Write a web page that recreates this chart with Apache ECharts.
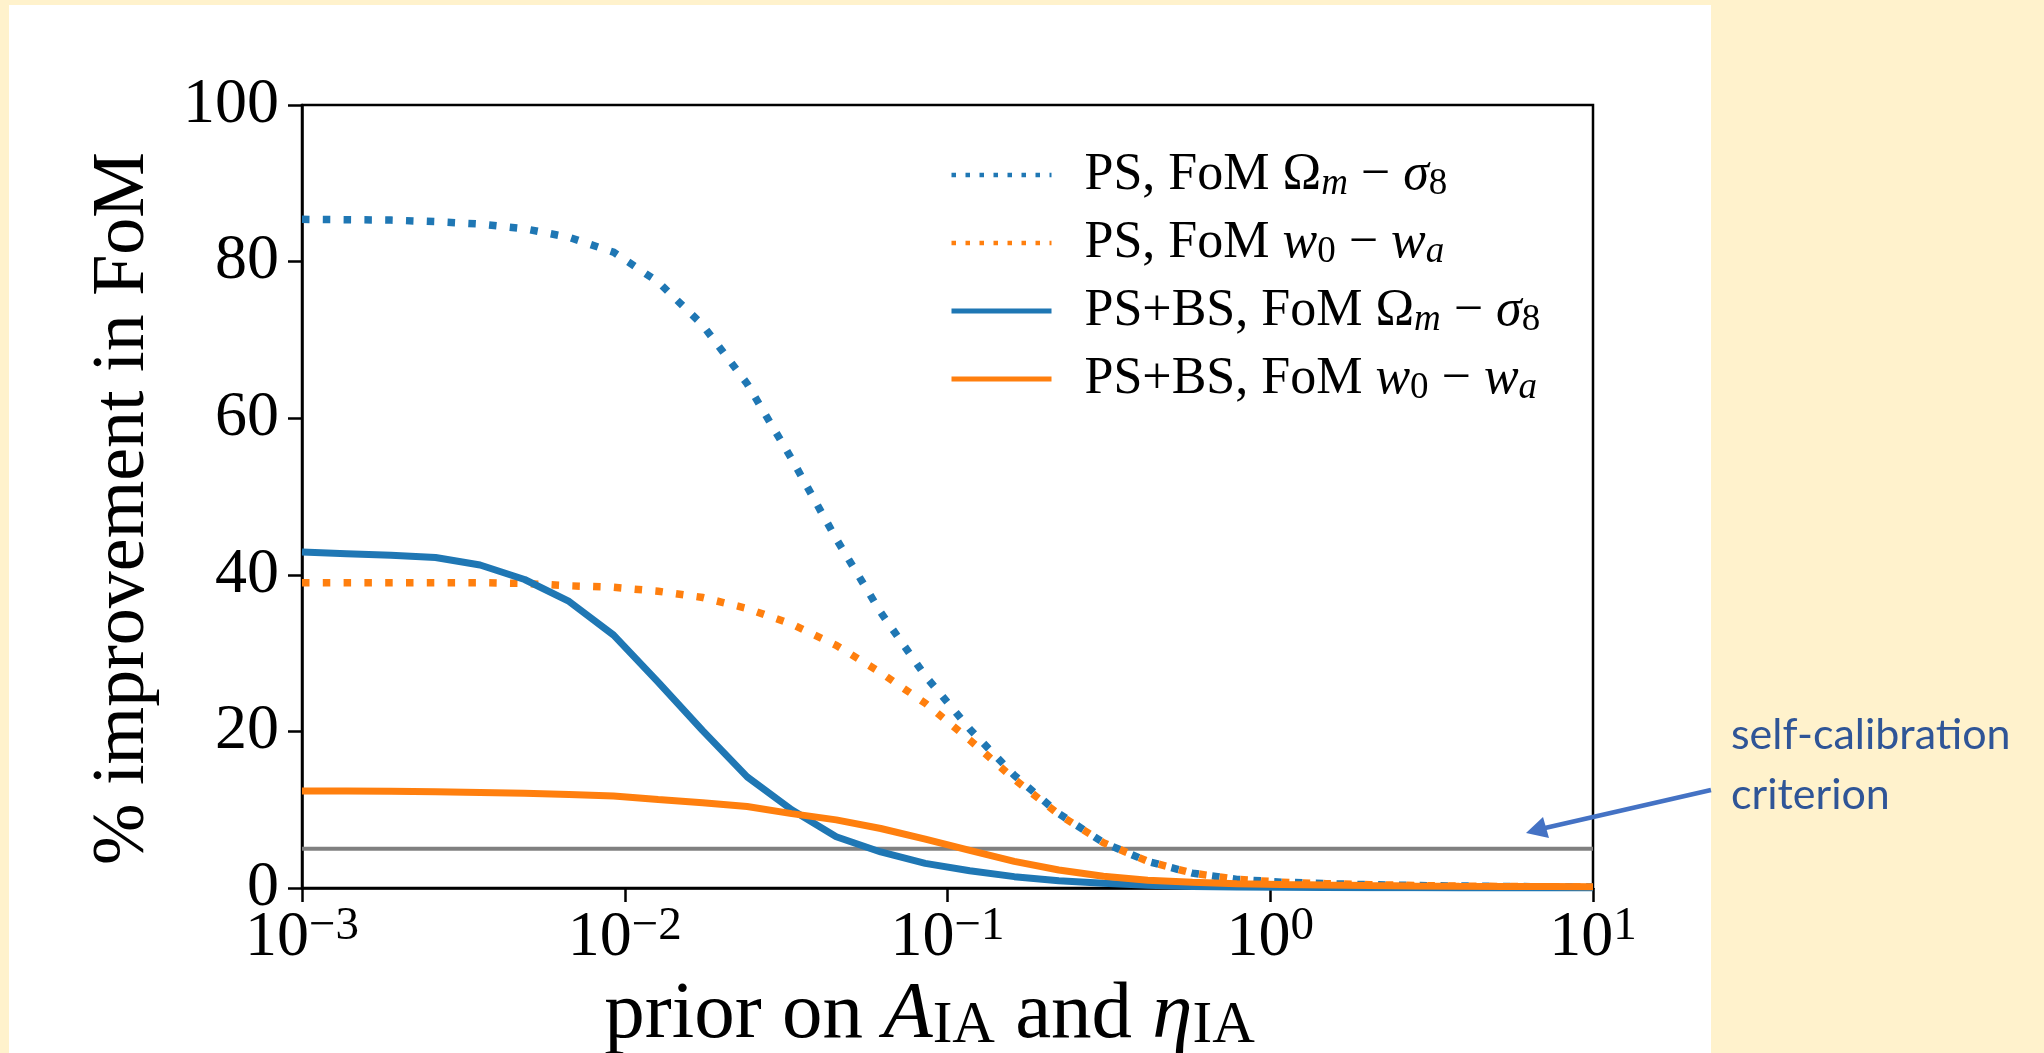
<!DOCTYPE html>
<html>
<head>
<meta charset="utf-8">
<script src="https://cdn.jsdelivr.net/npm/echarts@6/dist/echarts.min.js"></script>
<style>
  html, body { margin: 0; padding: 0; background: #FFF2CC; }
  #panel { position: absolute; left: 9px; top: 5px; width: 1702px; height: 1048px; background: #ffffff; }
  #chart { position: absolute; left: 0; top: 0; width: 2044px; height: 1053px; }
</style>
</head>
<body>
<div id="panel"></div>
<div id="chart"></div>
<script>
// prior on A_IA and eta_IA (30 log-spaced samples)
const priors = [0.001, 0.0013738, 0.0018874, 0.0025929, 0.0035622, 0.0048939, 0.0067234, 0.0092367,
  0.012690, 0.017433, 0.023950, 0.032903, 0.045204, 0.062102, 0.085317, 0.11721, 0.16103, 0.22122,
  0.30392, 0.41753, 0.57362, 0.78805, 1.0826, 1.4874, 2.0434, 2.8072, 3.8566, 5.2983, 7.2790, 10.0];

// % improvement in FoM
const psOmegaSigma = [85.4, 85.35, 85.3, 85.1, 84.8, 84.2, 83.1, 81.2, 77.4, 71.9, 64.4, 54.8, 44.6, 35.2,
  27.1, 20.3, 14.4, 9.5, 5.8, 3.4, 1.9, 1.1, 0.75, 0.55, 0.42, 0.32, 0.25, 0.2, 0.15, 0.12];
const psW0Wa = [39.0, 39.0, 39.0, 39.0, 39.0, 38.9, 38.6, 38.4, 37.9, 37.1, 35.7, 33.7, 31.0, 27.5,
  23.6, 18.9, 13.9, 9.4, 5.8, 3.4, 1.9, 1.1, 0.75, 0.55, 0.42, 0.32, 0.25, 0.2, 0.15, 0.12];
const psbsOmegaSigma = [42.9, 42.7, 42.5, 42.2, 41.25, 39.4, 36.6, 32.3, 26.3, 20.1, 14.2, 10.0, 6.55, 4.6,
  3.15, 2.2, 1.45, 0.93, 0.6, 0.35, 0.2, 0.12, 0.08, 0.05, 0.03, 0.02, 0.01, 0.01, 0.0, 0.0];
const psbsW0Wa = [12.4, 12.4, 12.35, 12.3, 12.2, 12.1, 11.95, 11.75, 11.3, 10.9, 10.4, 9.5, 8.7, 7.6,
  6.25, 4.8, 3.4, 2.3, 1.5, 1.0, 0.73, 0.55, 0.45, 0.38, 0.32, 0.27, 0.23, 0.2, 0.18, 0.16];

const criterion = 5;
const xRange = [0.001, 10];
const yTicks = [0, 20, 40, 60, 80, 100];

const names = ['PS, FoM Ωm − σ8', 'PS, FoM w0 − wa', 'PS+BS, FoM Ωm − σ8', 'PS+BS, FoM w0 − wa'];
const richNames = {
  'PS, FoM Ωm − σ8': '{r|PS, FoM Ω}{subi|m}{r| − }{it|σ}{sub|8}',
  'PS, FoM w0 − wa': '{r|PS, FoM }{it|w}{sub|0}{r| − }{it|w}{subi|a}',
  'PS+BS, FoM Ωm − σ8': '{r|PS+BS, FoM Ω}{subi|m}{r| − }{it|σ}{sub|8}',
  'PS+BS, FoM w0 − wa': '{r|PS+BS, FoM }{it|w}{sub|0}{r| − }{it|w}{subi|a}'
};

const BLUE = '#1f77b4', ORANGE = '#ff7f0e';
const SERIF = '"Liberation Serif", "DejaVu Serif", serif';
const pair = (arr) => priors.map((p, i) => [p, arr[i]]);

const chart = echarts.init(document.getElementById('chart'), null, { renderer: 'canvas' });

const legFs = 52, legSub = 37;
const option = {
  backgroundColor: 'transparent',
  animation: false,
  grid: { left: 302, right: 451, top: 105, bottom: 165, outerBoundsMode: 'none', containLabel: false,
          show: true, borderColor: '#000', borderWidth: 2.5, backgroundColor: 'transparent' },
  xAxis: {
    type: 'log', logBase: 10, min: xRange[0], max: xRange[1],
    axisLine: { lineStyle: { color: '#000', width: 2.5 } },
    axisTick: { show: true, inside: false, length: 14, lineStyle: { color: '#000', width: 2.5 } },
    minorTick: { show: false },
    splitLine: { show: false },
    axisLabel: {
      margin: 15,
      formatter: (v) => {
        const e = Math.round(Math.log10(v));
        return '{b|10}{s|' + (e < 0 ? '−' + (-e) : e) + '}';
      },
      rich: {
        b: { fontFamily: SERIF, fontSize: 64, lineHeight: 70, color: '#000' },
        s: { fontFamily: SERIF, fontSize: 47, lineHeight: 37, verticalAlign: 'top', color: '#000' }
      }
    },
    name: '{r|prior on }{it|A}{sub|IA}{r| and }{it|η}{sub|IA}',
    nameLocation: 'middle',
    nameGap: 81,
    nameTextStyle: {
      padding: [0, 36, 0, 0],
      rich: {
        r: { fontFamily: SERIF, fontSize: 81, lineHeight: 82, color: '#000' },
        it: { fontFamily: SERIF, fontStyle: 'italic', fontSize: 81, lineHeight: 82, color: '#000' },
        sub: { fontFamily: SERIF, fontSize: 59, lineHeight: 46, verticalAlign: 'bottom', color: '#000' }
      }
    }
  },
  yAxis: {
    type: 'value', min: yTicks[0], max: yTicks[yTicks.length - 1], interval: 20,
    axisLine: { show: true, lineStyle: { color: '#000', width: 2.5 } },
    axisTick: { show: true, inside: false, length: 14, lineStyle: { color: '#000', width: 2.5 } },
    splitLine: { show: false },
    axisLabel: { margin: 23, fontFamily: SERIF, fontSize: 64, color: '#000' },
    name: '% improvement in FoM',
    nameLocation: 'middle',
    nameGap: 140,
    nameTextStyle: { fontFamily: SERIF, fontSize: 74, lineHeight: 76, color: '#000', padding: [0, 24, 0, 0] }
  },
  legend: {
    left: 949, top: 149, orient: 'vertical', padding: 0,
    itemWidth: 100, itemHeight: 14, itemGap: 14,
    itemStyle: { opacity: 0 },
    data: [
      { name: names[0], lineStyle: { width: 4.5, type: [4.5, 9.5] } },
      { name: names[1], lineStyle: { width: 4.5, type: [4.5, 9.5] } },
      { name: names[2], lineStyle: { width: 5 } },
      { name: names[3], lineStyle: { width: 5 } }
    ],
    lineStyle: { width: 5 },
    formatter: (n) => richNames[n],
    textStyle: {
      padding: [0, 0, 0, 28],
      rich: {
        r: { fontFamily: SERIF, fontSize: legFs, lineHeight: 56, color: '#000' },
        it: { fontFamily: SERIF, fontStyle: 'italic', fontSize: legFs, lineHeight: 56, color: '#000' },
        sub: { fontFamily: SERIF, fontSize: legSub, lineHeight: 30, verticalAlign: 'bottom', color: '#000' },
        subi: { fontFamily: SERIF, fontStyle: 'italic', fontSize: legSub, lineHeight: 30, verticalAlign: 'bottom', color: '#000' }
      }
    }
  },
  series: [
    {
      name: 'criterion', type: 'line', data: [[xRange[0], criterion], [xRange[1], criterion]],
      symbol: 'none', silent: true, z: 1,
      lineStyle: { color: '#808080', width: 4 }
    },
    {
      name: names[0], type: 'line', data: pair(psOmegaSigma), symbol: 'none', z: 2,
      itemStyle: { color: BLUE },
      lineStyle: { color: BLUE, width: 7.5, type: [7.5, 13.3], cap: 'butt', join: 'miter' }
    },
    {
      name: names[1], type: 'line', data: pair(psW0Wa), symbol: 'none', z: 3,
      itemStyle: { color: ORANGE },
      lineStyle: { color: ORANGE, width: 7.5, type: [7.5, 13.3], cap: 'butt', join: 'miter' }
    },
    {
      name: names[2], type: 'line', data: pair(psbsOmegaSigma), symbol: 'none', z: 4,
      itemStyle: { color: BLUE },
      lineStyle: { color: BLUE, width: 7 }
    },
    {
      name: names[3], type: 'line', data: pair(psbsW0Wa), symbol: 'none', z: 5,
      itemStyle: { color: ORANGE },
      lineStyle: { color: ORANGE, width: 7 }
    }
  ],
  graphic: [
    {
      type: 'text', left: 1731, top: 705, silent: true,
      style: {
        text: 'self-calibration\ncriterion',
        fontFamily: 'Lato, "Open Sans", sans-serif', fontSize: 43, lineHeight: 60,
        fill: '#2F5597'
      }
    },
    {
      type: 'line', silent: true,
      shape: { x1: 1711, y1: 790, x2: 1545, y2: 828 },
      style: { stroke: '#4472C4', lineWidth: 4.5 }
    },
    {
      type: 'polygon', silent: true,
      shape: { points: [[1526, 833], [1549, 838], [1543, 817]] },
      style: { fill: '#4472C4' }
    }
  ]
};
chart.setOption(option);
</script>
</body>
</html>
